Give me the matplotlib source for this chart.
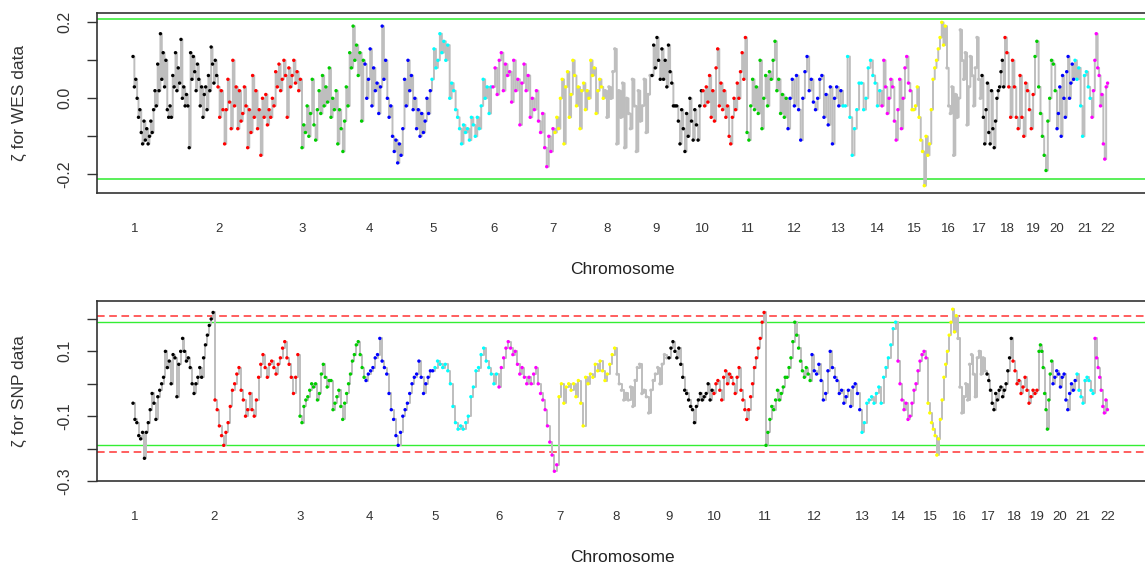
import numpy as np
import matplotlib
matplotlib.use('Agg')
import matplotlib.pyplot as plt
import matplotlib.transforms as mtransforms

plt.rcParams['font.family'] = ['Liberation Sans', 'DejaVu Sans']

output_file_path = 'out.png'

# chromosome labels
chrom_labels = [str(i) for i in range(1, 23)]

# WES data: zeta per chromosome
wes1 = [0.11, 0.03, 0.05, 0.00, -0.05, -0.03, -0.09, -0.12, -0.06, -0.11, -0.08, -0.12, -0.10, -0.06, -0.09,
        -0.03, 0.02, -0.02, 0.09, 0.02, 0.17, 0.05, 0.12, 0.03, 0.10, -0.03, -0.05, -0.02, -0.05, 0.06, 0.03,
        0.12, 0.02, 0.08, 0.04, 0.155, 0.00, 0.03, -0.02, 0.01, -0.02, -0.13, 0.12, 0.05, 0.11, 0.07, 0.02,
        0.09, 0.05, -0.02, 0.03, -0.05, 0.01, 0.03, -0.03, 0.06, 0.02, 0.135, 0.09, 0.04, 0.10, 0.06]
wes2 = [0.03, -0.05, 0.02, -0.03, -0.12, -0.03, 0.05, -0.01, -0.08, 0.10, -0.02, 0.03, -0.08, 0.02, -0.06,
        -0.04, 0.03, -0.02, -0.13, -0.03, -0.09, 0.06, -0.05, 0.02, -0.08, -0.03, -0.15, 0.00, -0.05, 0.01,
        -0.07, -0.03, -0.05, 0.00, -0.02, 0.07, 0.03, 0.09, 0.02, 0.05, 0.10, 0.06, -0.05, 0.08, 0.03, 0.06,
        0.10, 0.04, 0.07, 0.02, 0.05]
wes3 = [-0.13, -0.07, -0.09, -0.02, -0.10, -0.04, 0.05, -0.07, -0.11, -0.03, 0.02, -0.04, 0.06, -0.02, 0.03,
        -0.01, 0.08, -0.05, 0.00, -0.03, 0.02, -0.12, -0.03, -0.08, -0.14, -0.06, 0.03, -0.02, 0.12, 0.08,
        0.19, 0.10, 0.14, 0.06, 0.12, -0.06, 0.10]
wes4 = [0.09, 0.00, 0.05, 0.13, -0.02, 0.08, 0.02, 0.04, -0.04, 0.03, 0.19, 0.05, 0.10, 0.00, -0.05, -0.02,
        -0.10, -0.14, -0.11, -0.17, -0.12, -0.15, -0.08, 0.05, -0.02, 0.10, 0.02, 0.06, -0.03, 0.00, -0.08,
        -0.03, -0.10, -0.04, -0.09, -0.06, 0.00, -0.04, 0.02]
wes5 = [0.05, 0.13, 0.08, 0.10, 0.17, 0.12, 0.15, 0.10, 0.14, 0.00, 0.04, 0.02, -0.03, -0.05, -0.08, -0.12,
        -0.07, -0.09, -0.08, -0.11, -0.05, -0.07, -0.10, -0.05, -0.08, -0.02, 0.05, 0.00, 0.03, -0.04, 0.03]
wes6 = [0.03, 0.08, 0.01, 0.10, 0.12, 0.02, 0.09, 0.06, 0.07, -0.01, 0.10, 0.02, 0.05, -0.07, 0.04, 0.09,
        0.02, 0.06, -0.05, 0.00, -0.03, 0.02, -0.06, -0.09, -0.04, -0.13, -0.18, -0.10, -0.14, -0.08]
wes7 = [-0.09, -0.05, -0.08, 0.00, 0.05, -0.12, 0.03, 0.07, -0.05, 0.01, 0.10, 0.06, -0.02, 0.03, -0.08,
        0.02, 0.04, -0.03, 0.02, 0.00, 0.10, 0.06, 0.08, -0.04, 0.02, 0.05, 0.03, 0.00]
wes8 = [0.02, -0.05, 0.03, 0.00, 0.07, 0.13, -0.12, 0.02, -0.05, 0.04, -0.13, 0.00, -0.04, -0.08, 0.05,
        -0.02, -0.14, 0.02, -0.06, -0.02, 0.05, -0.09, 0.01, 0.06]
wes9 = [0.06, 0.14, 0.08, 0.16, 0.10, 0.05, 0.13, 0.05, 0.10, 0.03, 0.14, 0.07, 0.04, -0.02, -0.02, -0.02,
        -0.06, -0.12, -0.03, -0.08, -0.14, -0.04, -0.10, 0.00, -0.06, -0.11, -0.03, -0.07, -0.11, -0.02, 0.02]
wes10 = [0.02, -0.02, 0.03, -0.01, 0.06, -0.05, 0.02, -0.06, 0.08, 0.13, -0.02, 0.04, -0.03, 0.02, -0.05,
         -0.02, -0.10, -0.12, -0.05, 0.00, -0.03, 0.04, 0.00, 0.07, 0.12, 0.05, 0.16]
wes11 = [-0.09, -0.11, -0.02, 0.05, -0.03, 0.03, -0.04, 0.10, -0.08, 0.00, 0.06, -0.02, 0.07, 0.05, 0.10,
         0.15, 0.02, 0.05, -0.04, 0.01, -0.05, 0.00]
wes12 = [-0.08, 0.00, 0.05, -0.02, 0.06, -0.03, -0.11, 0.00, 0.07, 0.11, 0.02, 0.05, -0.01, -0.03, 0.00,
         0.05, 0.06, -0.05, 0.01, -0.07, 0.03, -0.12, 0.00, 0.03, -0.02, 0.02]
wes13 = [-0.02, -0.02, 0.11, -0.05, -0.15, -0.08, -0.03, 0.04, 0.04, -0.03, 0.00, 0.08, 0.10, 0.06, 0.04,
         -0.02, 0.02]
wes14 = [-0.02, 0.10, 0.03, -0.04, 0.00, 0.05, 0.03, -0.06, -0.11, -0.03, 0.05, -0.08, 0.00, 0.08, 0.11,
         0.04, 0.02]
wes15 = [-0.03, -0.03, -0.02, 0.03, -0.05, -0.11, -0.14, -0.23, -0.10, -0.15, -0.12, -0.03, 0.05, 0.08,
         0.10, 0.13, 0.16, 0.20, 0.14, 0.19]
wes16 = [0.08, -0.02, -0.04, 0.03, -0.15, 0.01, -0.05, 0.00, 0.18, 0.10, 0.05, 0.12, -0.07, 0.03, 0.11,
         0.06, -0.02, 0.08, 0.16, 0.05, 0.00]
wes17 = [0.06, -0.05, -0.12, -0.03, 0.04, -0.09, -0.12, 0.02, -0.08, -0.13, -0.06, 0.00, 0.02, 0.03, 0.07,
         0.10, 0.03]
wes18 = [0.16, 0.12, 0.03, -0.05, 0.10, 0.03, -0.05, -0.08, 0.06, -0.05, -0.10, 0.04, 0.02, -0.03, -0.08, 0.01]
wes19 = [0.11, 0.15, 0.03, -0.04, -0.10, -0.15, -0.19, -0.06, 0.00, 0.10, 0.09, 0.02]
wes20 = [-0.08, -0.04, 0.03, -0.10, 0.06, 0.00, -0.05, 0.07, 0.11, 0.00, 0.04, 0.09, 0.05]
wes21 = [0.10, 0.05, 0.08, -0.02, -0.10, 0.06, 0.07, 0.03, 0.00]
wes22 = [-0.05, 0.02, 0.10, 0.17, 0.08, 0.06, -0.02, 0.01, -0.12, -0.16, 0.03, 0.04]

# SNP data
snp1 = [-0.06, -0.11, -0.12, -0.16, -0.17, -0.15, -0.23, -0.15, -0.12, -0.08, -0.03, -0.06, -0.11, -0.04,
        -0.02, 0.00, 0.02, 0.10, 0.05, 0.07, 0.00, 0.09, 0.08, -0.04, 0.06, 0.10, 0.14, 0.10, 0.07, 0.08,
        0.05, 0.00, -0.03, 0.00, 0.02, 0.05, 0.02, 0.08, 0.12, 0.15, 0.18, 0.20, 0.22]
snp2 = [-0.05, -0.08, -0.13, -0.16, -0.19, -0.15, -0.12, -0.07, -0.02, 0.00, 0.03, 0.05, -0.02, -0.05,
        -0.10, -0.08, -0.03, -0.08, -0.10, -0.05, 0.02, 0.06, 0.09, 0.05, 0.02, 0.06, 0.07, 0.05, 0.03, 0.06,
        0.08, 0.11, 0.13, 0.08, 0.06, 0.02, -0.03, 0.02, 0.09]
snp3 = [-0.10, -0.12, -0.07, -0.05, -0.04, -0.02, 0.00, -0.01, 0.00, -0.05, -0.03, 0.03, 0.06, 0.02, -0.01,
        0.01, 0.01, -0.08, -0.06, -0.04, -0.02, -0.07, -0.11, -0.06, -0.03, 0.00, 0.03, 0.07, 0.09, 0.12,
        0.13, 0.09, 0.05, 0.02]
snp4 = [0.01, 0.03, 0.04, 0.05, 0.08, 0.09, 0.14, 0.07, 0.05, 0.03, -0.03, -0.08, -0.11, -0.16, -0.19,
        -0.15, -0.10, -0.08, -0.06, -0.03, 0.00, 0.02, 0.03, 0.07, 0.02, -0.03, 0.00, 0.02, 0.04, 0.04]
snp5 = [0.05, 0.07, 0.06, 0.05, 0.06, 0.04, 0.00, -0.07, -0.12, -0.14, -0.13, -0.14, -0.12, -0.10, -0.04,
        -0.01, 0.04, 0.05, 0.09, 0.11, 0.07, 0.05, 0.03, 0.00, 0.03]
snp6 = [-0.01, 0.05, 0.08, 0.11, 0.13, 0.11, 0.09, 0.10, 0.06, 0.03, 0.05, 0.02, 0.00, 0.02, 0.00, 0.03,
        0.05, 0.00, -0.03, -0.05, -0.08, -0.13, -0.18, -0.22, -0.27, -0.25]
snp7 = [-0.04, 0.00, -0.06, -0.01, 0.00, -0.02, 0.00, -0.04, 0.01, -0.06, -0.13, 0.02, 0.00, 0.03, 0.02,
        0.06, 0.04, 0.07, 0.04, 0.01, 0.03, 0.06, 0.09, 0.11]
snp8 = [0.03, 0.00, -0.02, -0.05, -0.03, -0.05, -0.01, -0.07, 0.01, 0.05, 0.06, -0.03, -0.02, -0.04, -0.09,
        -0.02, 0.01, 0.03, 0.05, 0.00, 0.06, 0.09, 0.08]
snp9 = [0.08, 0.11, 0.13, 0.10, 0.08, 0.11, 0.06, 0.02, -0.02, -0.03, -0.05, -0.07, -0.08, -0.12, -0.07,
        -0.05, -0.03, -0.05, -0.04, -0.03, 0.00, -0.05, -0.02]
snp10 = [-0.03, 0.00, 0.01, -0.02, -0.05, 0.02, 0.04, 0.00, 0.03, 0.02, 0.00, -0.03, 0.02, 0.05, -0.02,
         -0.05, -0.08, -0.11, -0.08, -0.04, 0.00, 0.05, 0.08, 0.11, 0.14, 0.19, 0.22]
snp11 = [-0.19, -0.15, -0.11, -0.07, -0.08, -0.05, -0.02, -0.05, -0.03, -0.01, 0.02, 0.02, 0.05, 0.08,
         0.13, 0.19, 0.15, 0.11, 0.07, 0.04, 0.02, 0.05, 0.03, 0.01]
snp12 = [0.09, 0.04, 0.03, 0.06, 0.01, -0.05, -0.03, 0.04, 0.10, 0.05, 0.02, 0.01, -0.03, -0.02, -0.06,
         -0.04, -0.02, -0.07, -0.01, 0.00, -0.03, -0.08]
snp13 = [-0.15, -0.12, -0.06, -0.05, -0.04, -0.06, -0.03, -0.01, -0.06, 0.02, 0.05, 0.08, 0.12, 0.17, 0.19]
snp14 = [0.07, 0.00, -0.05, -0.08, -0.06, -0.11, -0.10, -0.06, -0.02, 0.00, 0.04, 0.07, 0.09, 0.10, 0.08]
snp15 = [-0.06, -0.09, -0.12, -0.14, -0.16, -0.22, -0.17, -0.11, -0.05, 0.02, 0.06, 0.10, 0.15, 0.19,
         0.23, 0.16, 0.21]
snp16 = [0.14, -0.01, -0.09, -0.04, 0.00, -0.05, 0.06, 0.09, 0.03, -0.04, 0.08, 0.10, 0.03, 0.08, 0.04]
snp17 = [0.03, 0.01, -0.02, -0.06, -0.08, -0.03, -0.05, -0.02, -0.01, -0.04, -0.02, 0.00, 0.04, 0.08, 0.14]
snp18 = [0.07, 0.04, 0.00, 0.01, -0.03, -0.01, 0.02, -0.02, -0.06, -0.04, -0.02, -0.03, -0.02]
snp19 = [0.10, 0.12, 0.10, 0.05, -0.03, -0.08, -0.14, -0.05, 0.03, 0.07]
snp20 = [0.00, 0.02, 0.04, 0.03, -0.01, 0.02, 0.03, -0.05, -0.08, -0.03, 0.00, -0.02, 0.01]
snp21 = [0.03, -0.02, -0.04, -0.06, 0.01, 0.02, 0.01, -0.02, -0.03]
snp22 = [0.14, 0.08, 0.05, 0.02, -0.02, -0.07, -0.09, -0.05, -0.08]

wes = [wes1, wes2, wes3, wes4, wes5, wes6, wes7, wes8, wes9, wes10, wes11,
       wes12, wes13, wes14, wes15, wes16, wes17, wes18, wes19, wes20, wes21, wes22]
snp = [snp1, snp2, snp3, snp4, snp5, snp6, snp7, snp8, snp9, snp10, snp11,
       snp12, snp13, snp14, snp15, snp16, snp17, snp18, snp19, snp20, snp21, snp22]

# cumulative genome coordinate of chromosome boundaries (23 edges)
wes_bounds = [36, 121, 205, 268, 335, 396, 458, 508, 555, 606, 650, 691, 746, 785, 815, 850,
              885, 908, 938, 960, 978, 995, 1012]
snp_bounds = [36, 118, 203, 269, 338, 402, 462, 520, 572, 617, 669, 715, 765, 801, 831, 861,
              890, 916, 942, 956, 980, 998, 1012]
# where the chromosome names are printed
wes_label_pos = [38, 122, 205, 272, 336, 397, 456, 510, 559, 605, 651, 697, 741, 780, 817, 851,
                 882, 910, 936, 960, 988, 1011]
snp_label_pos = [38, 117, 203, 272, 338, 402, 463, 519, 572, 617, 668, 717, 765, 801, 833, 862,
                 891, 917, 940, 963, 986, 1011]

pal = ['black', '#FF0000', '#00CD00', '#0000FF', '#00FFFF', '#FF00FF', '#FFFF00', '#BEBEBE']


def draw_panel(ax, values, bounds, label_pos, ylabel, ylim, yticks, ylabels):
    xs, ys, cs = [], [], []
    for k, v in enumerate(values):
        x = np.linspace(bounds[k], bounds[k + 1], len(v), endpoint=False)
        xs.append(x)
        ys.append(np.array(v))
        cs += [pal[k % 8]] * len(v)
    xs = np.concatenate(xs)
    ys = np.concatenate(ys)
    ax.step(xs, ys, where='post', color='#BEBEBE', lw=1.4, zorder=2)
    ax.scatter(xs, ys, c=cs, s=6, linewidths=0, zorder=3)

    ax.set_xlim(0, 1051)
    ax.set_ylim(*ylim)
    ax.set_xticks([])
    ax.set_yticks(yticks)
    ax.set_yticklabels(ylabels)
    ax.tick_params(axis='y', length=7, width=1, color='#333333', labelsize=11.5,
                   labelcolor='#333333', pad=11, labelrotation=90)
    for lab in ax.get_yticklabels():
        lab.set_va('center')
    for s in ax.spines.values():
        s.set_color('#333333')
        s.set_linewidth(1.2)

    trans = mtransforms.blended_transform_factory(ax.transData, ax.transAxes)
    for p, lab in zip(label_pos, chrom_labels):
        ax.text(p, -0.198, lab, transform=trans, ha='center', va='center',
                fontsize=9.5, color='#333333')
    ax.text(0.5, -0.425, 'Chromosome', transform=ax.transAxes, ha='center',
            va='center', fontsize=12.5, color='#222222')
    ax.text(-0.0733, 0.5, ylabel, transform=ax.transAxes, rotation=90,
            ha='center', va='center', fontsize=12.5, color='#333333')


fig = plt.figure(figsize=(11.45, 5.70), dpi=100)

ax1 = fig.add_axes([97 / 1145, 1 - 193.3 / 570, 1051 / 1145, 180 / 570])
draw_panel(ax1, wes, wes_bounds, wes_label_pos, 'ζ for WES data', (-0.25, 0.2237),
           [0.2, 0.1, 0.0, -0.1, -0.2], ['0.2', '', '0.0', '', '-0.2'])
ax1.axhline(0.21, color='#4CEE4C', lw=1.3, zorder=1)
ax1.axhline(-0.212, color='#4CEE4C', lw=1.3, zorder=1)

ax2 = fig.add_axes([97 / 1145, 1 - 481 / 570, 1051 / 1145, 180 / 570])
draw_panel(ax2, snp, snp_bounds, snp_label_pos, 'ζ for SNP data', (-0.2985, 0.2554),
           [0.2, 0.1, 0.0, -0.1, -0.2, -0.3], ['', '0.1', '', '-0.1', '', '-0.3'])
ax2.axhline(0.19, color='#33EE33', lw=1.0, zorder=1)
ax2.axhline(-0.19, color='#33EE33', lw=1.0, zorder=1)
ax2.axhline(0.209, color='#FF3333', lw=1.1, ls=(0, (5, 3)), zorder=1)
ax2.axhline(-0.209, color='#FF3333', lw=1.1, ls=(0, (5, 3)), zorder=1)

plt.savefig(output_file_path, format='png', dpi=100)
